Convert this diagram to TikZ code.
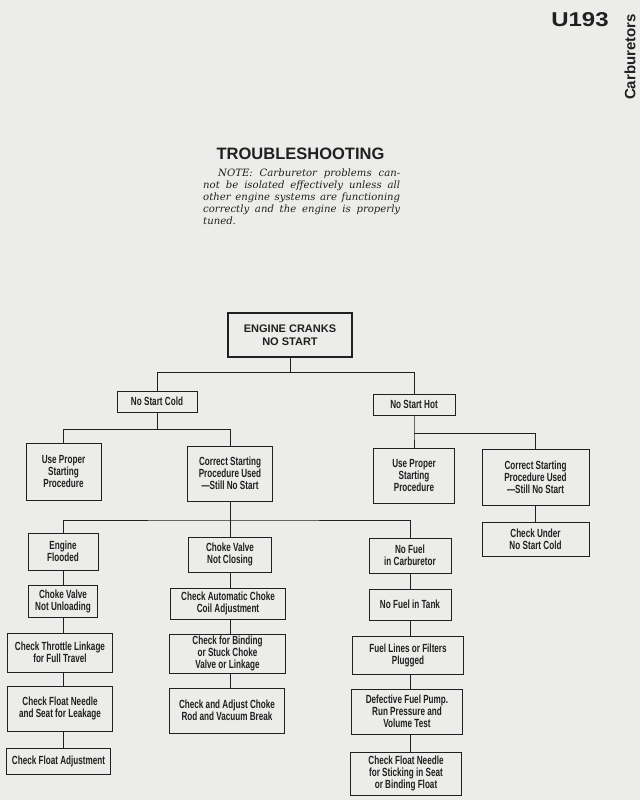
\documentclass[tikz,border=0pt]{standalone}
\usepackage{fontspec}
\newfontfamily\boxfont[FakeStretch=0.69]{Liberation Sans}
\newfontfamily\headfont{Liberation Sans}
\newfontfamily\widefont[FakeStretch=1.2]{Liberation Sans}
\newfontfamily\notefont{DejaVu Serif}
\definecolor{paper}{RGB}{236,236,234}
\definecolor{ink}{RGB}{32,32,32}
\tikzset{
  box/.style={draw=ink, line width=1pt, inner sep=1pt, align=center, text=ink,
    font=\boxfont\bfseries\fontsize{11.8}{12}\selectfont},
  topbox/.style={box, line width=1.8pt, font=\headfont\bfseries\fontsize{11}{12.5}\selectfont},
  link/.style={draw=ink, line width=1pt},
  x=1pt, y=-1pt
}
\begin{document}
\begin{tikzpicture}
\fill[paper] (0,0) rectangle (640,800);
\useasboundingbox (0,0) rectangle (640,800);

% header
\node[text=ink, font=\widefont\bfseries\fontsize{20}{20}\selectfont] (code) at (580,20) {U193};
\node[text=ink, rotate=90, font=\headfont\bfseries\fontsize{15}{15}\selectfont] (sect) at (630,57) {Carburetors};
\node[text=ink, font=\headfont\bfseries\fontsize{16.5}{16.5}\selectfont] (title) at (300.5,154) {TROUBLESHOOTING};
\node[text=ink, anchor=north west, inner sep=0pt, align=left,
  font=\notefont\itshape\fontsize{10.1}{11.8}\selectfont] (note) at (203,169)
  {\hspace*{15pt}\makebox[182pt][s]{NOTE: Carburetor problems can-}\\
   \makebox[197pt][s]{not be isolated effectively unless all}\\
   \makebox[197pt][s]{other engine systems are functioning}\\
   \makebox[197pt][s]{correctly and the engine is properly}\\
   tuned.};

% boxes
\node[topbox, minimum width=124pt, minimum height=44pt] (top) at (290,335) {ENGINE CRANKS\\NO START};
\node[box, minimum width=80pt, minimum height=21pt] (cold) at (157,401.5) {No Start Cold};
\node[box, minimum width=82pt, minimum height=21pt] (hot) at (414,404.5) {No Start Hot};
\node[box, minimum width=75pt, minimum height=57pt] (useL) at (63.5,471.5) {Use Proper\\Starting\\Procedure};
\node[box, minimum width=85pt, minimum height=55pt] (corrL) at (230,473.5) {Correct Starting\\Procedure Used\\—Still No Start};
\node[box, minimum width=81pt, minimum height=55pt] (useR) at (414,475.5) {Use Proper\\Starting\\Procedure};
\node[box, minimum width=107pt, minimum height=56pt] (corrR) at (535.5,477) {Correct Starting\\Procedure Used\\—Still No Start};
\node[box, minimum width=107pt, minimum height=34pt] (under) at (535.5,539) {Check Under\\No Start Cold};

\node[box, minimum width=70pt, minimum height=37pt] (flood) at (63,551.5) {Engine\\Flooded};
\node[box, minimum width=83pt, minimum height=35pt] (chokeNC) at (230,554.5) {Choke Valve\\Not Closing};
\node[box, minimum width=82pt, minimum height=35pt] (nofuel) at (410,555.5) {No Fuel\\in Carburetor};

\node[box, minimum width=69pt, minimum height=32pt] (unload) at (63,601) {Choke Valve\\Not Unloading};
\node[box, minimum width=115pt, minimum height=31pt] (auto) at (228,603.5) {Check Automatic Choke\\Coil Adjustment};
\node[box, minimum width=82pt, minimum height=31pt] (tank) at (410,604.5) {No Fuel in Tank};

\node[box, minimum width=105pt, minimum height=39pt] (throttle) at (60,652.5) {Check Throttle Linkage\\for Full Travel};
\node[box, minimum width=116pt, minimum height=39pt] (binding) at (227.5,653.5) {Check for Binding\\or Stuck Choke\\Valve or Linkage};
\node[box, minimum width=111pt, minimum height=38pt] (filters) at (408,655) {Fuel Lines or Filters\\Plugged};

\node[box, minimum width=105pt, minimum height=45pt] (needle) at (60,708.5) {Check Float Needle\\and Seat for Leakage};
\node[box, minimum width=115pt, minimum height=45pt] (adjust) at (227,710.5) {Check and Adjust Choke\\Rod and Vacuum Break};
\node[box, minimum width=111pt, minimum height=45pt] (pump) at (407,711.5) {Defective Fuel Pump.\\Run Pressure and\\Volume Test};

\node[box, minimum width=104pt, minimum height=26pt] (floatadj) at (58.5,761) {Check Float Adjustment};
\node[box, minimum width=111pt, minimum height=43pt] (sticking) at (406,773.5) {Check Float Needle\\for Sticking in Seat\\or Binding Float};

% bus coordinates
\coordinate (busA) at (0,372);
\coordinate (busB) at (0,429);
\coordinate (busC) at (0,433);
\coordinate (busD) at (0,520);

% connectors
\draw[link] (top.south) -- (top.south |- busA) -| (cold.north);
\draw[link] (top.south |- busA) -| (hot.north);
\draw[link] (cold.south) -- (cold.south |- busB) -| (useL.north);
\draw[link] (cold.south |- busB) -| (corrL.north);
\draw[link] (hot.south) -- (hot.south |- busC) -| (useR.north);
\draw[link] (hot.south |- busC) -| (corrR.north);
\draw[link] (corrR.south) -- (under.north);
\draw[link] (corrL.south) -- (chokeNC.north);
\draw[link] (flood.north) |- (corrL.south |- busD) -| (nofuel.north);

\draw[link] (flood.south) -- (flood.south |- unload.north);
\draw[link] (unload.south) -- (unload.south |- throttle.north);
\draw[link] (unload.south |- throttle.south) -- (unload.south |- needle.north);
\draw[link] (unload.south |- needle.south) -- (unload.south |- floatadj.north);

\draw[link] (chokeNC.south) -- (chokeNC.south |- auto.north);
\draw[link] (chokeNC.south |- auto.south) -- (chokeNC.south |- binding.north);
\draw[link] (chokeNC.south |- binding.south) -- (chokeNC.south |- adjust.north);

\draw[link] (nofuel.south) -- (nofuel.south |- tank.north);
\draw[link] (nofuel.south |- tank.south) -- (nofuel.south |- filters.north);
\draw[link] (nofuel.south |- filters.south) -- (nofuel.south |- pump.north);
\draw[link] (nofuel.south |- pump.south) -- (nofuel.south |- sticking.north);
\end{tikzpicture}
\end{document}
